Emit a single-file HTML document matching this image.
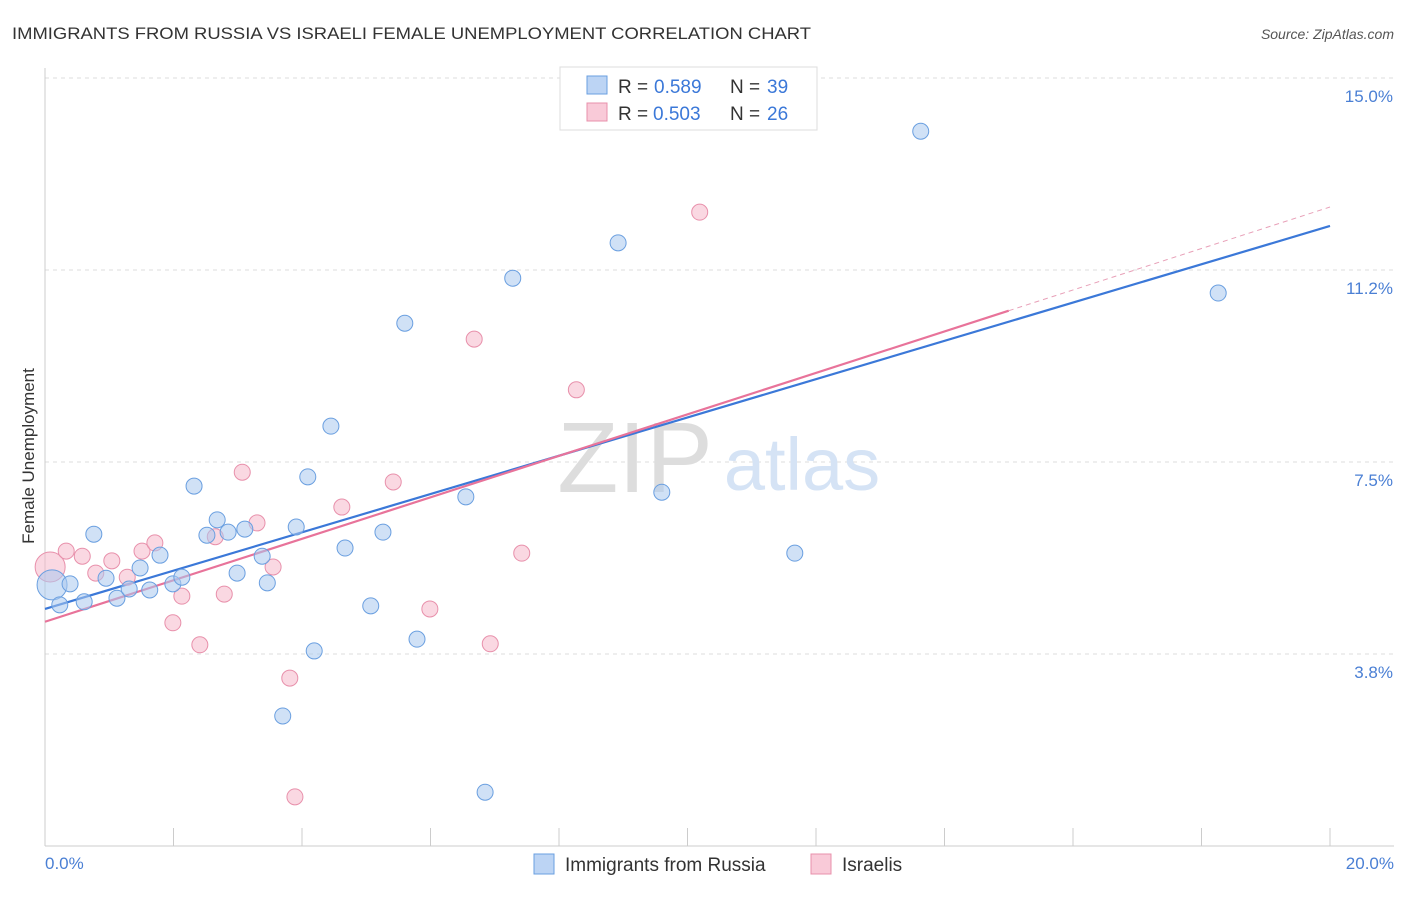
<!DOCTYPE html>
<html><head><meta charset="utf-8"><style>
body{margin:0;background:#fff;font-family:"Liberation Sans",sans-serif;}
svg text{font-family:"Liberation Sans",sans-serif;}
</style></head><body>
<svg id="chart" width="1406" height="892">
<text x="12" y="39" font-size="17" fill="#333" textLength="799" lengthAdjust="spacingAndGlyphs">IMMIGRANTS FROM RUSSIA VS ISRAELI FEMALE UNEMPLOYMENT CORRELATION CHART</text>
<text x="1394" y="39" font-size="14" fill="#555" text-anchor="end" font-style="italic">Source: ZipAtlas.com</text>
<g id="grid"></g>
<g id="watermark">
<text x="635" y="492" font-size="100" fill="#ddd" text-anchor="middle" font-family="Liberation Serif">ZIP</text>
<text x="802" y="490" font-size="74" fill="#d5e3f5" text-anchor="middle">atlas</text>
</g>
<g id="lines"></g>
<g id="points"></g>
<text transform="translate(34,456) rotate(-90)" font-size="17" fill="#333" text-anchor="middle">Female Unemployment</text>
<text x="45" y="869" font-size="17" fill="#4a7fd4">0.0%</text>
<text x="1394" y="869" font-size="17" fill="#4a7fd4" text-anchor="end">20.0%</text>
<g>
<rect x="560" y="67" width="257" height="63" fill="#fff" stroke="#ddd"/>
<rect x="587" y="76" width="20" height="18" fill="#bcd4f4" stroke="#6a9fe0"/>
<text x="618" y="93" font-size="19" fill="#333">R =</text>
<text x="654" y="93" font-size="19" fill="#3b78d8">0.589</text>
<text x="730" y="93" font-size="19" fill="#333">N =</text>
<text x="767" y="93" font-size="19" fill="#3b78d8">39</text>
<rect x="587" y="103" width="20" height="18" fill="#f9cad8" stroke="#e890ab"/>
<text x="618" y="120" font-size="19" fill="#333">R =</text>
<text x="653" y="120" font-size="19" fill="#3b78d8">0.503</text>
<text x="730" y="120" font-size="19" fill="#333">N =</text>
<text x="767" y="120" font-size="19" fill="#3b78d8">26</text>
</g>
<g>
<rect x="534" y="854" width="20" height="20" fill="#bcd4f4" stroke="#6a9fe0"/>
<text x="565" y="871" font-size="19" fill="#333">Immigrants from Russia</text>
<rect x="811" y="854" width="20" height="20" fill="#f9cad8" stroke="#e890ab"/>
<text x="842" y="871" font-size="19" fill="#333">Israelis</text>
</g>
</svg>
<script>
const yTicks=[3.75,7.5,11.25,15];
const yTickLabels=["3.8%","7.5%","11.2%","15.0%"];
const xTicks=[0,2,4,6,8,10,12,14,16,18,20];
const blueX=[0.11,0.39,0.23,0.61,0.76,0.95,1.12,1.31,1.48,1.63,1.79,1.99,2.13,2.32,2.52,2.68,2.85,2.99,3.11,3.38,3.46,3.70,3.91,4.09,4.19,4.45,4.67,5.07,5.26,5.60,5.79,6.55,6.85,7.28,8.92,9.60,11.67,13.63,18.26];
const blueY=[5.10,5.12,4.71,4.77,6.09,5.23,4.84,5.02,5.43,5.00,5.68,5.12,5.25,7.03,6.07,6.37,6.13,5.33,6.19,5.66,5.14,2.54,6.23,7.21,3.81,8.20,5.82,4.69,6.13,10.21,4.04,6.82,1.05,11.09,11.78,6.91,5.72,13.96,10.80];
const pinkX=[0.08,0.33,0.58,0.79,1.04,1.28,1.51,1.71,1.99,2.13,2.41,2.65,2.79,3.07,3.30,3.55,3.81,3.89,4.62,5.42,5.99,6.68,6.93,7.42,8.27,10.19];
const pinkY=[5.45,5.76,5.66,5.33,5.57,5.25,5.76,5.92,4.36,4.88,3.93,6.04,4.92,7.30,6.31,5.45,3.28,0.96,6.62,7.11,4.63,9.90,3.95,5.72,8.91,12.38];
const blueTrend=[4.63,12.11];
const pinkTrend=[4.38,12.48];
const NS="http://www.w3.org/2000/svg";
const X=v=>45+v*64.25, Y=v=>846-v*51.2;
function mk(tag,attrs,parent){const e=document.createElementNS(NS,tag);for(const k in attrs)e.setAttribute(k,attrs[k]);document.getElementById(parent).appendChild(e);return e;}
yTicks.forEach((t,i)=>{
 const l=mk('line',{x1:45,x2:1394,y1:Y(t),y2:Y(t),stroke:'#ddd','stroke-dasharray':'4,4'},'grid');
 
 
 const tx=mk('text',{x:1393,y:Y(t)+24,'font-size':17,fill:'#4a7fd4','text-anchor':'end'},'grid');
 tx.textContent=yTickLabels[i];
 
 
});
const ax=mk('line',{x1:45,x2:1394,y1:846,y2:846,stroke:'#ccc'},'grid');


const ay=mk('line',{x1:45,x2:45,y1:68,y2:846,stroke:'#ccc'},'grid');


xTicks.forEach(t=>{
 const l=mk('line',{x1:X(t),x2:X(t),y1:828,y2:846,stroke:'#ccc'},'grid');
 
 
});
let b=mk('line',{x1:X(0),y1:Y(blueTrend[0]),x2:X(20),y2:Y(blueTrend[1]),stroke:'#3b78d8','stroke-width':2.2},'lines');


const pAt=x=>pinkTrend[0]+(pinkTrend[1]-pinkTrend[0])*x/20;
let p1=mk('line',{x1:X(0),y1:Y(pAt(0)),x2:X(15),y2:Y(pAt(15)),stroke:'#e8739a','stroke-width':2.2},'lines');


let p2=mk('line',{x1:X(15),y1:Y(pAt(15)),x2:X(20),y2:Y(pAt(20)),stroke:'#e8a0b8','stroke-width':1,'stroke-dasharray':'5,4'},'lines');


function pts(xs,ys,fill,stroke,name){
 xs.forEach((x,i)=>{
  const r=i===0?15:8;
  const c=mk('circle',{cx:X(x),cy:Y(ys[i]),r:r,fill:fill,'fill-opacity':0.55,stroke:stroke,'stroke-width':1},'points');
  
  
 });
}
pts(pinkX,pinkY,'#f6b8cb','#e890ab','israelis-point');
pts(blueX,blueY,'#a9c8ee','#6a9fe0','russia-point');
</script>
</body></html>
